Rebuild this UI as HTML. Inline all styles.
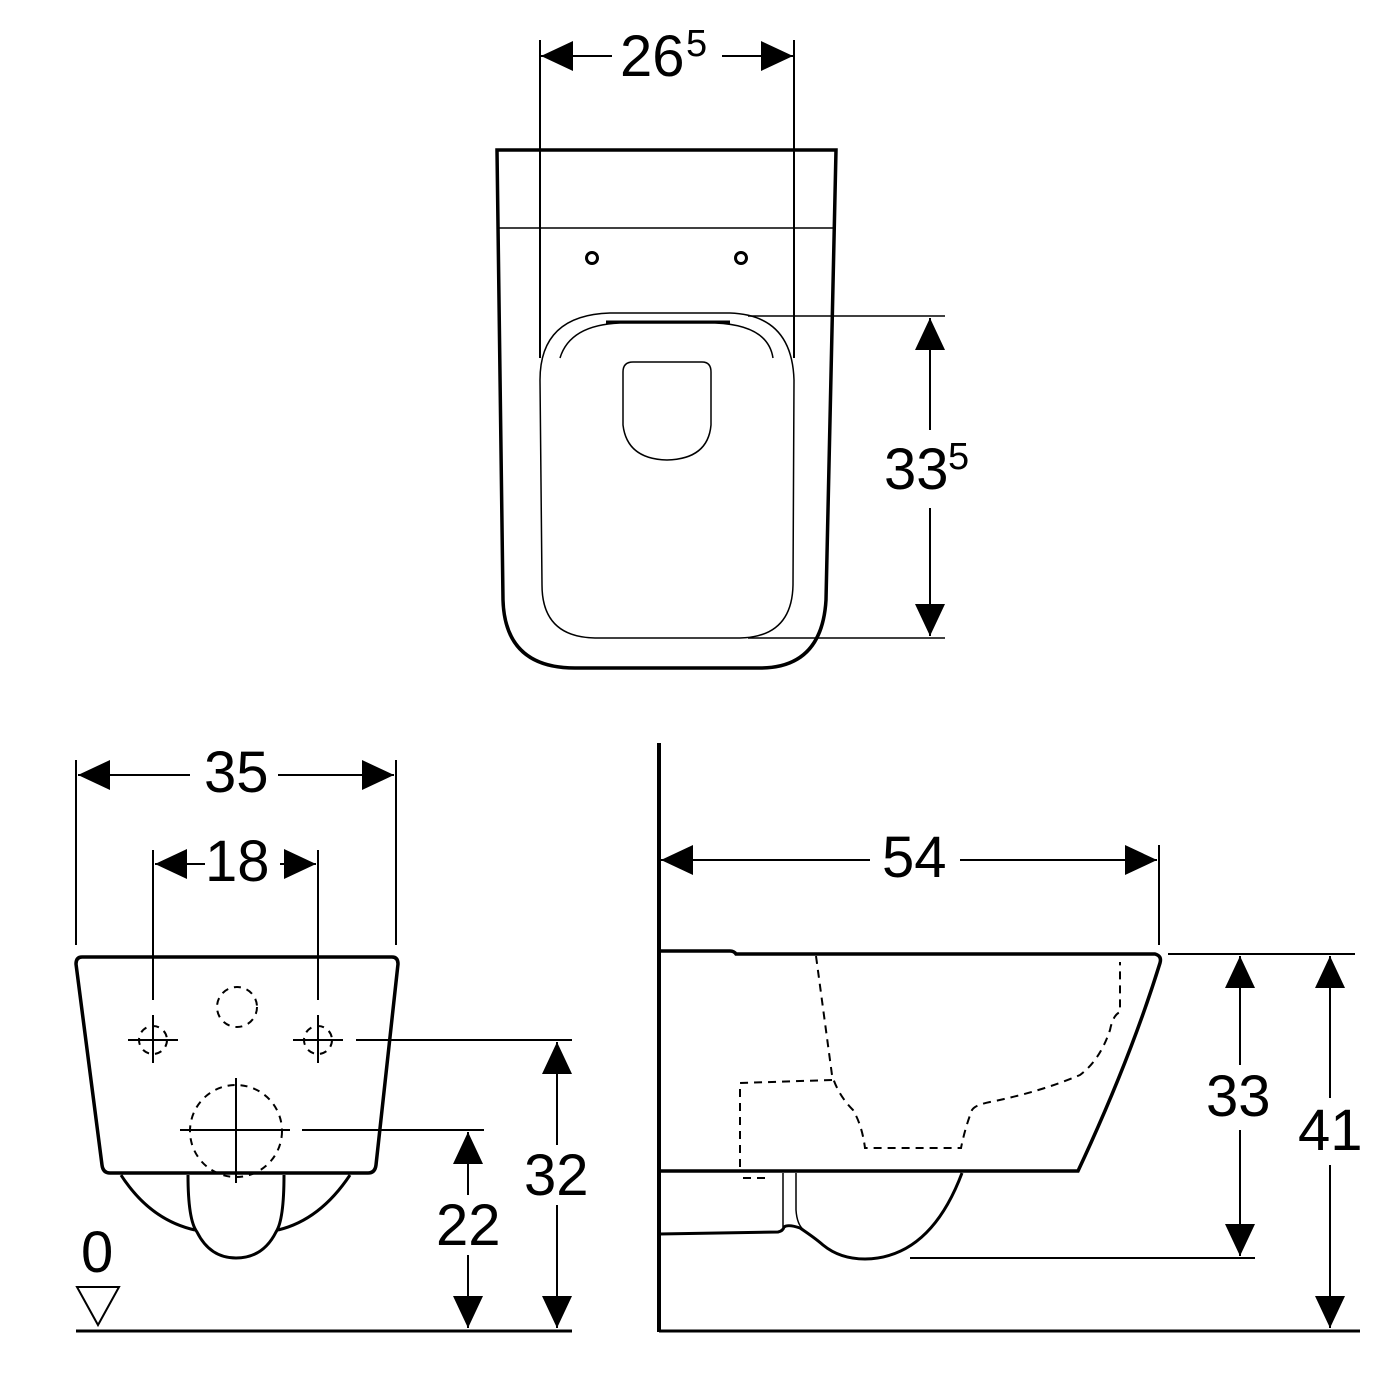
<!DOCTYPE html>
<html><head><meta charset="utf-8"><style>
html,body{margin:0;padding:0;background:#fff}
svg{display:block}
text{font-family:"Liberation Sans",Arial,sans-serif;fill:#000}
</style></head><body>
<svg width="1400" height="1400" viewBox="0 0 1400 1400" xmlns="http://www.w3.org/2000/svg">
<defs>
<marker id="a" viewBox="0 0 32 30" refX="32" refY="15" markerWidth="32" markerHeight="30" markerUnits="userSpaceOnUse" orient="auto-start-reverse">
<path d="M32,15 L0,0 L0,30 Z" fill="#000"/>
</marker>
</defs>
<g fill="none" stroke="#000">
<!-- TOP VIEW -->
<path d="M497,150 L836,150 L826,600 Q822,668 760,668 L575,668 Q505,668 503,600 Z" stroke-width="3.5"/>
<line x1="498" y1="228" x2="835" y2="228" stroke-width="1.5"/>
<circle cx="592" cy="258" r="5.5" stroke-width="3"/>
<circle cx="741" cy="258" r="5.5" stroke-width="3"/>
<path d="M540,380 Q540,315 610,313 L730,313 Q792,315 794,380 L793,585 Q792,637 740,638 L595,638 Q542,637 542,585 Z" stroke-width="1.5"/>
<path d="M560,358 Q570,325 620,323 L715,323 Q768,325 773,358" stroke-width="1.5"/>
<line x1="606" y1="322" x2="730" y2="322" stroke-width="3"/>
<path d="M623,372 Q623,362 633,362 L702,362 Q711,362 711,372 L711,425 Q708,459 667,460 Q627,459 623,425 Z" stroke-width="1.5"/>
<!-- top dims -->
<line x1="540" y1="40" x2="540" y2="358" stroke-width="2"/>
<line x1="794" y1="40" x2="794" y2="358" stroke-width="2"/>
<line x1="541" y1="56" x2="612" y2="56" stroke-width="2" marker-start="url(#a)"/>
<line x1="722" y1="56" x2="793" y2="56" stroke-width="2" marker-end="url(#a)"/>
<line x1="748" y1="316" x2="945" y2="316" stroke-width="1.5"/>
<line x1="748" y1="638" x2="945" y2="638" stroke-width="1.5"/>
<line x1="930" y1="318" x2="930" y2="430" stroke-width="2" marker-start="url(#a)"/>
<line x1="930" y1="508" x2="930" y2="636" stroke-width="2" marker-end="url(#a)"/>

<!-- FRONT VIEW -->
<path d="M82,957 L392,957 Q398,957 398,964 L376,1165 Q375,1173 368,1173 L110,1173 Q103,1173 102,1165 L76,964 Q76,957 82,957 Z" stroke-width="3.5"/>
<path d="M121,1175 Q150,1220 195,1230" stroke-width="3"/>
<path d="M350,1175 Q320,1220 278,1230" stroke-width="3"/>
<path d="M188,1175 Q188,1220 197,1232 Q210,1258 236,1258 Q263,1258 276,1232 Q284,1220 284,1175" stroke-width="3"/>
<g stroke-width="2" stroke-dasharray="7,6">
<circle cx="237" cy="1007" r="20"/>
<circle cx="153" cy="1040" r="14"/>
<circle cx="318" cy="1040" r="14"/>
<circle cx="236" cy="1131" r="46"/>
</g>
<g stroke-width="2">
<line x1="128" y1="1040" x2="178" y2="1040"/>
<line x1="293" y1="1040" x2="343" y2="1040"/>
<line x1="153" y1="1015" x2="153" y2="1063"/>
<line x1="318" y1="1015" x2="318" y2="1063"/>
<line x1="180" y1="1130" x2="290" y2="1130"/>
<line x1="236" y1="1078" x2="236" y2="1183"/>
<line x1="76" y1="760" x2="76" y2="945"/>
<line x1="396" y1="760" x2="396" y2="945"/>
<line x1="153" y1="850" x2="153" y2="1000"/>
<line x1="318" y1="850" x2="318" y2="1000"/>
<line x1="78" y1="775" x2="190" y2="775" marker-start="url(#a)"/>
<line x1="278" y1="775" x2="394" y2="775" marker-end="url(#a)"/>
<line x1="155" y1="864" x2="205" y2="864" marker-start="url(#a)"/>
<line x1="280" y1="864" x2="316" y2="864" marker-end="url(#a)"/>
<line x1="356" y1="1040" x2="572" y2="1040"/>
<line x1="302" y1="1130" x2="484" y2="1130"/>
<line x1="557" y1="1042" x2="557" y2="1145" marker-start="url(#a)"/>
<line x1="557" y1="1205" x2="557" y2="1328" marker-end="url(#a)"/>
<line x1="468" y1="1132" x2="468" y2="1195" marker-start="url(#a)"/>
<line x1="468" y1="1255" x2="468" y2="1328" marker-end="url(#a)"/>
<path d="M77,1287 L119,1287 L98,1325 Z"/>
</g>
<line x1="76" y1="1331" x2="572" y2="1331" stroke-width="3"/>

<!-- SIDE VIEW -->
<line x1="659" y1="743" x2="659" y2="1332" stroke-width="4"/>
<line x1="659" y1="1331" x2="1360" y2="1331" stroke-width="3"/>
<path d="M659,951 L730,951 Q734,951 736,954 L1155,954 Q1162,956 1160,963 Q1130,1060 1078,1171 L659,1171" stroke-width="3.5"/>
<path d="M659,1234 L778,1232 Q783,1231 784,1227 Q788,1224 800,1228 Q815,1238 823,1245 Q840,1259 865,1259 Q930,1258 962,1173" stroke-width="3"/>
<line x1="783" y1="1173" x2="783" y2="1227" stroke-width="1.5"/>
<path d="M796,1173 L796,1210 Q797,1225 804,1230" stroke-width="1.5"/>
<g stroke-width="2" stroke-dasharray="8,6">
<path d="M816,956 L832,1075 Q838,1095 853,1110 Q862,1125 865,1148 L961,1148 Q965,1128 972,1110 Q975,1105 990,1102 Q1040,1092 1080,1075 Q1100,1060 1110,1030 Q1113,1015 1120,1012 L1120,962"/>
<path d="M832,1080 L740,1083 L740,1172"/>
<path d="M743,1178 L768,1178"/>
</g>
<g stroke-width="2">
<line x1="1159" y1="845" x2="1159" y2="945"/>
<line x1="661" y1="860" x2="870" y2="860" marker-start="url(#a)"/>
<line x1="960" y1="860" x2="1157" y2="860" marker-end="url(#a)"/>
<line x1="1168" y1="954" x2="1355" y2="954"/>
<line x1="910" y1="1258" x2="1255" y2="1258"/>
<line x1="1240" y1="956" x2="1240" y2="1065" marker-start="url(#a)"/>
<line x1="1240" y1="1130" x2="1240" y2="1256" marker-end="url(#a)"/>
<line x1="1330" y1="956" x2="1330" y2="1098" marker-start="url(#a)"/>
<line x1="1330" y1="1165" x2="1330" y2="1328" marker-end="url(#a)"/>
</g>
</g>
<g font-size="58">
<text x="620" y="76">26</text><text x="686" y="56" font-size="38">5</text>
<text x="884" y="489">33</text><text x="948" y="469" font-size="38">5</text>
<text x="204" y="792">35</text>
<text x="205" y="881">18</text>
<text x="524" y="1195">32</text>
<text x="436" y="1245">22</text>
<text x="81" y="1272">0</text>
<text x="882" y="877">54</text>
<text x="1206" y="1116">33</text>
<text x="1298" y="1150">41</text>
</g>
</svg>
</body></html>
